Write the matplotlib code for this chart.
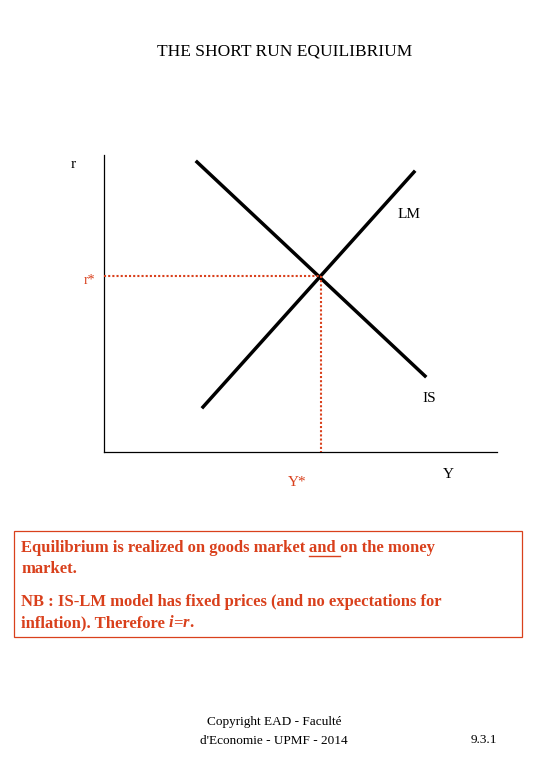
import matplotlib.pyplot as plt
from matplotlib.patches import Rectangle

plt.rcParams['font.family'] = ['Liberation Serif', 'DejaVu Serif']

# curve endpoints in page coordinates (pixels, y downward)
is_x = [197, 425]
is_y = [162, 376]
lm_x = [203, 414]
lm_y = [407, 172]
eq_x = 321
eq_y = 276
axis_x0, axis_y0 = 104, 452
axis_top, axis_right = 155, 497

red = '#d9401c'

fig = plt.figure(figsize=(5.4, 7.8), dpi=100)
ax = fig.add_axes([0, 0, 1, 1])
ax.set_xlim(0, 540)
ax.set_ylim(780, 0)
ax.axis('off')
renderer = fig.canvas.get_renderer()

ax.text(285, 52, "THE SHORT RUN EQUILIBRIUM", ha='center', va='center', fontsize=12.5)

# axes
ax.plot([axis_x0, axis_x0], [axis_top, axis_y0], color='black', lw=0.9)
ax.plot([axis_x0, axis_right], [axis_y0, axis_y0], color='black', lw=0.9)

ax.plot(is_x, is_y, color='black', lw=2.5)
ax.plot(lm_x, lm_y, color='black', lw=2.5)

ax.plot([axis_x0, eq_x], [eq_y, eq_y], color=red, lw=1.5, ls=(0, (1, 1)))
ax.plot([eq_x, eq_x], [eq_y, axis_y0], color=red, lw=1.5, ls=(0, (1, 1)))

ax.text(73, 165, "r", ha='center', va='center', fontsize=11)
ax.text(409, 215, "LM", ha='center', va='center', fontsize=11)
ax.text(89, 281, "r*", ha='center', va='center', fontsize=10, color=red)
ax.text(429, 398, "IS", ha='center', va='center', fontsize=11)
ax.text(448, 474, "Y", ha='center', va='center', fontsize=11)
ax.text(297, 482, "Y*", ha='center', va='center', fontsize=11, color=red)

ax.add_patch(Rectangle((14, 531), 508, 106, fill=False, edgecolor=red, lw=0.9))


def run(x, y, pieces):
    # draw consecutive text pieces on one line, returning nothing
    for s, style, underline in pieces:
        t = ax.text(x, y, s, ha='left', va='center', fontsize=12, color=red,
                    fontweight='bold', fontstyle=style)
        w = t.get_window_extent(renderer).width
        if underline:
            ax.plot([x, x + w], [y + 8, y + 8], color=red, lw=1)
        x += w


run(21, 548, [("Equilibrium is realized on goods market ", 'normal', False),
              ("and ", 'normal', True),
              ("on the money", 'normal', False)])
run(21, 569, [("market.", 'normal', False)])
run(21, 602, [("NB : IS-LM model has fixed prices (and no expectations for", 'normal', False)])
run(21, 623, [("inflation). Therefore ", 'normal', False), ("i", 'italic', False),
              ("=", 'normal', False), ("r", 'italic', False), (".", 'normal', False)])

ax.text(274, 722, "Copyright EAD - Faculté", ha='center', va='center', fontsize=9.5)
ax.text(274, 741, "d'Economie - UPMF - 2014", ha='center', va='center', fontsize=9.5)
ax.text(484, 740, "9.3.1", ha='center', va='center', fontsize=9.5)

fig.savefig("out.png", dpi=100)
